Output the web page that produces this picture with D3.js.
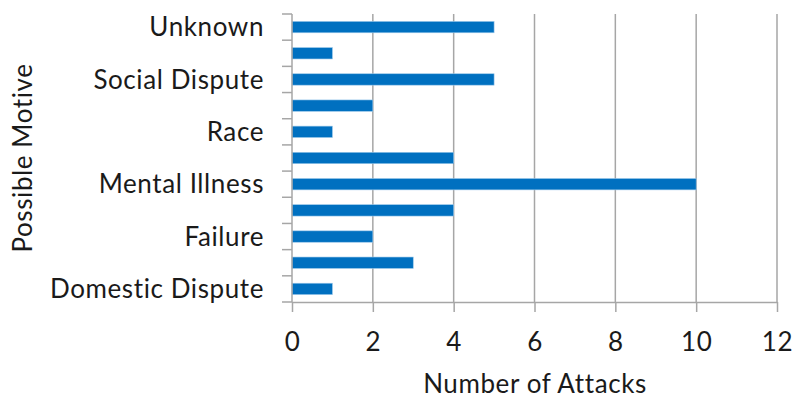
<!DOCTYPE html>
<html>
<head>
<meta charset="utf-8">
<script src="https://cdn.jsdelivr.net/npm/d3@7"></script>
<style>
  html, body { margin: 0; padding: 0; background: #fff; }
  svg text { font-family: Lato, "Open Sans", sans-serif; fill: #1a1a1a; letter-spacing: 0.6px; }
</style>
</head>
<body>
<svg id="chart" width="794" height="398"></svg>
<script>
// Motive categories, bottom to top; every other label is left blank on the axis
const categories = ["Domestic Dispute", "", "Failure", "", "Mental Illness", "", "Race", "", "Social Dispute", "", "Unknown"];
const attacks = [1, 3, 2, 4, 10, 4, 1, 2, 5, 1, 5];
const xTicks = [0, 2, 4, 6, 8, 10, 12];

const margin = { top: 14, right: 17, bottom: 96, left: 292 };
const width = 794, height = 398;
const innerW = width - margin.left - margin.right;
const innerH = height - margin.top - margin.bottom;
const fontSize = "26px";

const svg = d3.select("#chart");
const g = svg.append("g").attr("transform", `translate(${margin.left},${margin.top})`);

const x = d3.scaleLinear().domain([0, 12]).range([0, innerW]);
const idx = d3.range(categories.length);
const y = d3.scaleBand().domain(idx.slice().reverse()).range([0, innerH]).paddingInner(0.565).paddingOuter(0.2825);
const yBand = d3.scaleBand().domain(idx.slice().reverse()).range([0, innerH]);

const grey = "#a6a6a6";

// vertical gridlines
g.selectAll("line.grid").data(xTicks.filter(t => t > 0)).join("line")
  .attr("class", "grid")
  .attr("x1", d => x(d)).attr("x2", d => x(d))
  .attr("y1", 0).attr("y2", innerH)
  .attr("stroke", grey).attr("stroke-width", 1.5);

// bars
g.selectAll("rect.bar").data(idx).join("rect")
  .attr("class", "bar")
  .attr("x", x(0))
  .attr("y", i => y(i))
  .attr("width", i => x(attacks[i]) - x(0))
  .attr("height", y.bandwidth())
  .attr("fill", "#0070c0")
  .attr("stroke", "#9cc8ea").attr("stroke-width", 0.6);

// x axis
const xAxis = g.append("g").attr("transform", `translate(0,${innerH})`)
  .call(d3.axisBottom(x).tickValues(xTicks).tickSize(10).tickPadding(20.5).tickSizeOuter(0));
xAxis.select(".domain").attr("stroke", grey).attr("stroke-width", 1.5);
xAxis.selectAll(".tick line").attr("stroke", grey).attr("stroke-width", 1.5);
xAxis.selectAll(".tick text").style("font-size", fontSize).attr("fill", "#1a1a1a");

// y axis: ticks at band boundaries, labels at band centres
const yAxisG = g.append("g");
yAxisG.append("line").attr("x1", 0).attr("x2", 0).attr("y1", 0).attr("y2", innerH)
  .attr("stroke", grey).attr("stroke-width", 1.5);
yAxisG.selectAll("line.ytick").data(d3.range(categories.length + 1)).join("line")
  .attr("class", "ytick")
  .attr("x1", -10).attr("x2", 0)
  .attr("y1", k => k * yBand.step()).attr("y2", k => k * yBand.step())
  .attr("stroke", grey).attr("stroke-width", 1.5);
yAxisG.selectAll("text.ylab").data(idx).join("text")
  .attr("class", "ylab")
  .attr("x", -28)
  .attr("y", i => yBand(i) + yBand.bandwidth() / 2)
  .attr("dy", "0.35em")
  .attr("text-anchor", "end")
  .style("font-size", fontSize)
  .text(i => categories[i]);

// axis titles
svg.append("text")
  .attr("x", 535).attr("y", 384).attr("dy", "0.35em")
  .attr("text-anchor", "middle").style("font-size", fontSize)
  .text("Number of Attacks");
svg.append("text")
  .attr("transform", `translate(23,${margin.top + innerH / 2}) rotate(-90)`)
  .attr("dy", "0.35em")
  .attr("text-anchor", "middle").style("font-size", fontSize)
  .text("Possible Motive");
</script>
</body>
</html>
